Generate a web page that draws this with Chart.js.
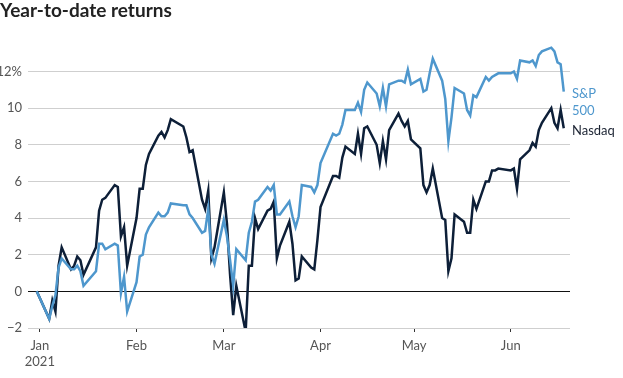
<!DOCTYPE html>
<html>
<head>
<meta charset="utf-8">
<script src="https://cdn.jsdelivr.net/npm/chart.js@4.4.1/dist/chart.umd.min.js"></script>
<style>
  html, body { margin: 0; padding: 0; background: #fff; }
  #wrap { position: relative; width: 623px; height: 378px; }
  #title { position: absolute; left: 0; top: -1px; font: bold 19px Lato, sans-serif; color: #222; line-height: 22px; }
  canvas { position: absolute; left: 0; top: 0; }
</style>
</head>
<body>
<div id="wrap">
  <canvas id="ytdChart" width="623" height="378"></canvas>
  <div id="title">Year-to-date returns</div>
</div>
<script>
// trading days, Dec 31 2020 = base (0%)
const dates = [
  '2020-12-31',
  '2021-01-04','2021-01-05','2021-01-06','2021-01-07','2021-01-08','2021-01-11','2021-01-12','2021-01-13','2021-01-14','2021-01-15',
  '2021-01-19','2021-01-20','2021-01-21','2021-01-22','2021-01-25','2021-01-26','2021-01-27','2021-01-28','2021-01-29',
  '2021-02-01','2021-02-02','2021-02-03','2021-02-04','2021-02-05','2021-02-08','2021-02-09','2021-02-10','2021-02-11','2021-02-12',
  '2021-02-16','2021-02-17','2021-02-18','2021-02-19','2021-02-22','2021-02-23','2021-02-24','2021-02-25','2021-02-26',
  '2021-03-01','2021-03-02','2021-03-03','2021-03-04','2021-03-05','2021-03-08','2021-03-09','2021-03-10','2021-03-11','2021-03-12',
  '2021-03-15','2021-03-16','2021-03-17','2021-03-18','2021-03-19','2021-03-22','2021-03-23','2021-03-24','2021-03-25','2021-03-26',
  '2021-03-29','2021-03-30','2021-03-31','2021-04-01',
  '2021-04-05','2021-04-06','2021-04-07','2021-04-08','2021-04-09','2021-04-12','2021-04-13','2021-04-14','2021-04-15','2021-04-16',
  '2021-04-19','2021-04-20','2021-04-21','2021-04-22','2021-04-23','2021-04-26','2021-04-27','2021-04-28','2021-04-29','2021-04-30',
  '2021-05-03','2021-05-04','2021-05-05','2021-05-06','2021-05-07','2021-05-10','2021-05-11','2021-05-12','2021-05-13','2021-05-14',
  '2021-05-17','2021-05-18','2021-05-19','2021-05-20','2021-05-21','2021-05-24','2021-05-25','2021-05-26','2021-05-27','2021-05-28',
  '2021-06-01','2021-06-02','2021-06-03','2021-06-04','2021-06-07','2021-06-08','2021-06-09','2021-06-10','2021-06-11',
  '2021-06-14','2021-06-15','2021-06-16','2021-06-17','2021-06-18'
];

const sp500 = [
  0,
  -1.5, -0.8, -0.2, 1.3, 1.8, 1.2, 1.2, 1.4, 1.1, 0.3,
  1.1, 2.6, 2.6, 2.3, 2.6, 2.5, -0.1, 0.8, -1.1,
  0.5, 1.9, 2.0, 3.1, 3.5, 4.3, 4.1, 4.1, 4.3, 4.8,
  4.7, 4.7, 4.2, 4.0, 3.2, 3.3, 4.5, 2.0, 1.5,
  3.9, 3.0, 1.7, 0.3, 2.3, 1.7, 3.2, 3.8, 4.9, 5.0,
  5.7, 5.5, 5.8, 4.2, 4.2, 4.9, 4.1, 3.5, 4.1, 5.8,
  5.7, 5.4, 5.8, 7.0,
  8.6, 8.5, 8.6, 9.1, 9.9, 9.9, 10.3, 9.8, 11.0, 11.4,
  10.8, 10.1, 11.1, 10.1, 11.3, 11.5, 11.5, 11.4, 12.1, 11.3,
  11.6, 10.9, 11.0, 11.9, 12.7, 11.5, 10.5, 8.2, 9.5, 11.1,
  10.8, 9.9, 9.6, 10.7, 10.6, 11.7, 11.5, 11.7, 11.8, 11.9,
  11.9, 12.0, 11.6, 12.6, 12.5, 12.6, 12.3, 12.9, 13.1,
  13.3, 13.1, 12.5, 12.4, 10.9
];

const nasdaq = [
  0,
  -1.5, -0.5, -1.1, 1.4, 2.4, 1.2, 1.4, 1.9, 1.7, 0.9,
  2.4, 4.4, 5.0, 5.1, 5.8, 5.7, 3.0, 3.5, 1.4,
  4.0, 5.6, 5.6, 6.9, 7.5, 8.5, 8.7, 8.4, 8.8, 9.4,
  9.0, 8.4, 7.6, 7.7, 5.0, 4.5, 5.5, 1.8, 2.4,
  5.4, 3.7, 0.9, -1.3, 0.3, -2.2, 1.4, 1.4, 4.0, 3.4,
  4.4, 4.5, 4.9, 1.8, 2.5, 3.8, 2.6, 0.6, 0.7, 1.9,
  1.3, 1.2, 2.8, 4.6,
  6.3, 6.3, 6.2, 7.3, 7.9, 7.5, 8.6, 7.5, 8.9, 9.0,
  8.0, 7.0, 8.2, 7.2, 8.8, 9.7, 9.3, 9.0, 9.3, 8.3,
  7.8, 5.8, 5.4, 5.8, 6.7, 4.0, 3.9, 1.1, 1.8, 4.2,
  3.8, 3.2, 3.2, 5.0, 4.5, 6.0, 6.0, 6.6, 6.6, 6.7,
  6.6, 6.7, 5.6, 7.2, 7.7, 8.1, 7.9, 8.8, 9.2,
  10.0, 9.2, 8.9, 9.9, 8.9
];

const monthStarts = ['2021-01-01','2021-02-01','2021-03-01','2021-04-01','2021-05-01','2021-06-01'];
const monthLabels = ['Jan','Feb','Mar','Apr','May','Jun'];
const yTicks = [-2, 0, 2, 4, 6, 8, 10, 12];

const seriesNames = ['S&P 500', 'Nasdaq'];
const spColor = '#4e97cd';
const ndColor = '#0d1f38';

// days since Jan 1 2021
const dayOf = s => (Date.parse(s) - Date.parse('2021-01-01')) / 86400000;
const xDays = dates.map(dayOf);
const tickDays = monthStarts.map(dayOf);

const endLabels = {
  id: 'endLabels',
  afterDatasetsDraw(chart) {
    const ctx = chart.ctx;
    const x = chart.chartArea.right + 2;
    const yScale = chart.scales.y;
    const spY = yScale.getPixelForValue(sp500[sp500.length - 1]);
    const ndY = yScale.getPixelForValue(nasdaq[nasdaq.length - 1]);
    ctx.save();
    ctx.font = '13px Lato, sans-serif';
    ctx.textBaseline = 'middle';
    ctx.textAlign = 'left';
    ctx.fillStyle = spColor;
    ctx.fillText('S&P', x, spY + 2);
    ctx.fillText('500', x, spY + 19);
    ctx.fillStyle = '#1c2433';
    ctx.fillText('Nasdaq', x, ndY + 3);
    ctx.restore();
  }
};

const ctx = document.getElementById('ytdChart').getContext('2d');
new Chart(ctx, {
  type: 'line',
  data: {
    datasets: [
      {
        label: seriesNames[0],
        data: xDays.map((d, i) => ({ x: d, y: sp500[i] })),
        borderColor: spColor,
        borderWidth: 2.5,
        pointRadius: 0,
        tension: 0,
        fill: false
      },
      {
        label: seriesNames[1],
        data: xDays.map((d, i) => ({ x: d, y: nasdaq[i] })),
        borderColor: ndColor,
        borderWidth: 2.5,
        pointRadius: 0,
        tension: 0,
        fill: false
      }
    ]
  },
  options: {
    responsive: false,
    animation: false,
    layout: { padding: { top: 44, right: 53, left: 0, bottom: 0 } },
    plugins: { legend: { display: false }, tooltip: { enabled: false } },
    scales: {
      x: {
        type: 'linear',
        min: -3.8,
        max: 170,
        afterBuildTicks: s => { s.ticks = tickDays.map(v => ({ value: v })); },
        afterFit: s => { s.height = 50; },
        border: { display: false },
        grid: { drawOnChartArea: false, drawTicks: true, tickLength: 4, tickColor: '#333' },
        ticks: {
          padding: 6,
          color: '#555',
          font: { family: 'Lato, sans-serif', size: 13 },
          maxRotation: 0,
          callback: (v) => {
            const i = tickDays.indexOf(v);
            if (i === 0) return [monthLabels[0], '2021'];
            return monthLabels[i];
          }
        }
      },
      y: {
        min: -2,
        max: 13.5,
        afterBuildTicks: s => { s.ticks = yTicks.map(v => ({ value: v })); },
        afterFit: s => { s.width = 28; },
        border: { display: false },
        grid: {
          drawTicks: false,
          color: c => (c.tick && c.tick.value === 0 ? '#111' : '#cfcfcf'),
          lineWidth: 1
        },
        ticks: {
          padding: 6,
          color: '#555',
          font: { family: 'Lato, sans-serif', size: 13 },
          callback: v => (v === 12 ? '12%' : (v < 0 ? '\u2212' + Math.abs(v) : String(v)))
        }
      }
    }
  },
  plugins: [endLabels]
});
</script>
</body>
</html>
